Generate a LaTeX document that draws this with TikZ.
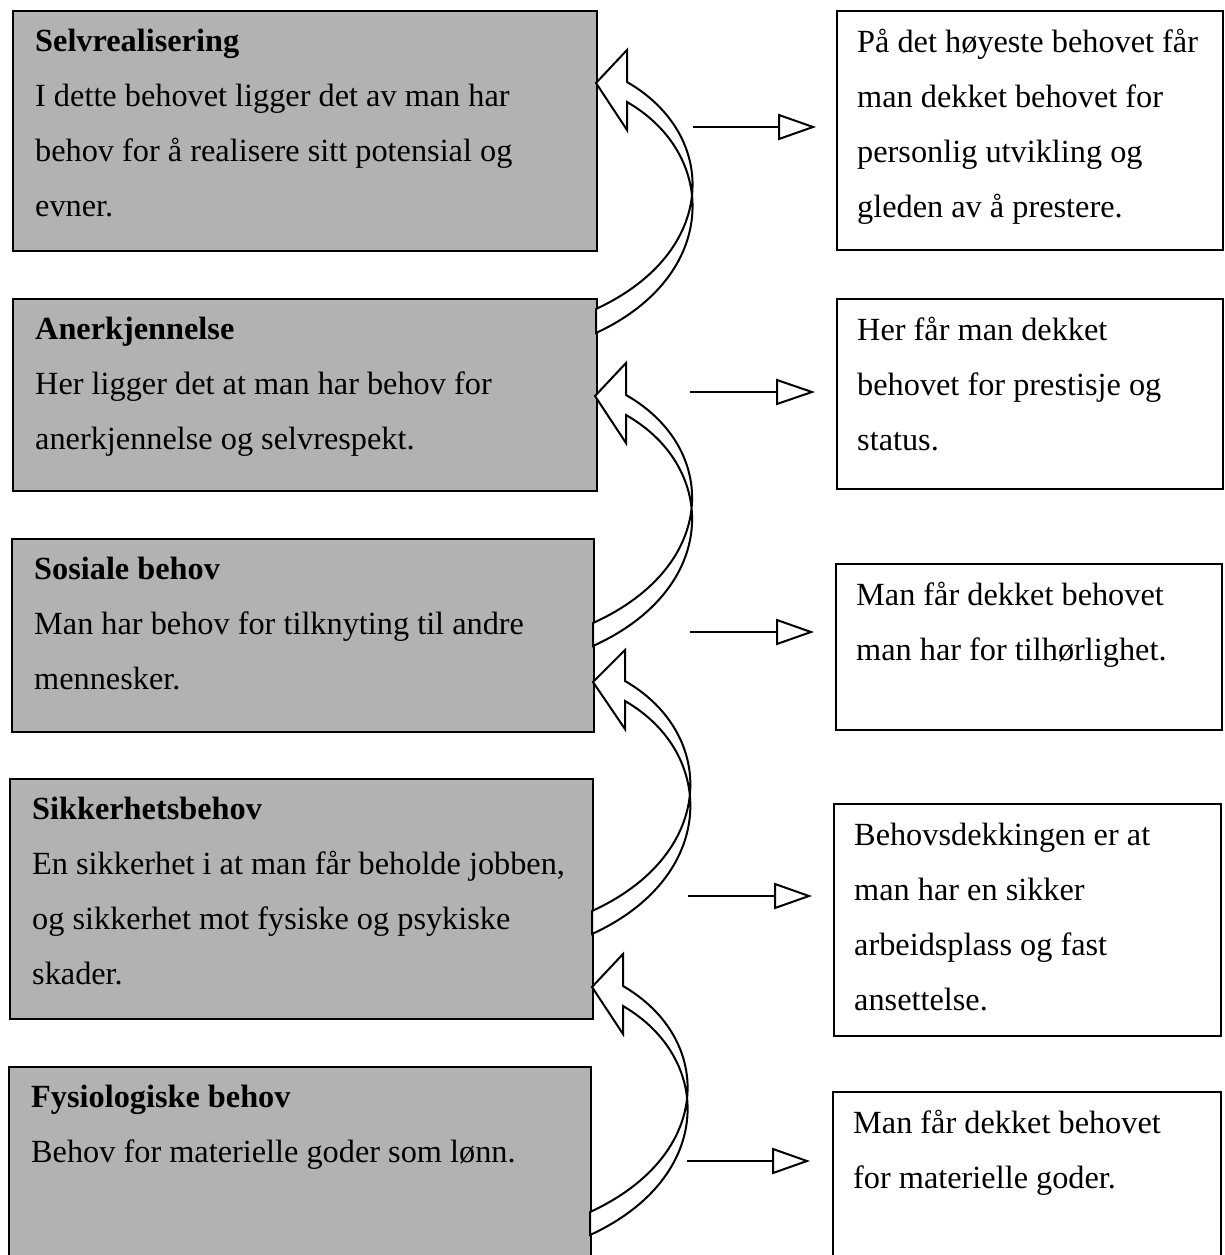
\documentclass[tikz,border=0pt]{standalone}
\usepackage{fontspec}
\setmainfont{Liberation Serif}
\begin{document}
\begin{tikzpicture}[x=1pt,y=-1pt]
  \tikzstyle{every node}+=[inner sep=0pt]
  \tikzstyle{need}=[draw=black, line width=1.8pt, fill=black!30, anchor=north west]
  \tikzstyle{gain}=[draw=black, line width=1.8pt, fill=white, anchor=north west]
  \tikzstyle{words}=[anchor=north west, align=left, font=\fontsize{32.3}{55}\selectfont]
  \tikzstyle{curl}=[draw=black, line width=2pt, fill=white, line join=miter]
  \useasboundingbox (0,0) rectangle (1224,1255);
  \node [need, minimum width=584pt, minimum height=240pt] (n1) at (12,10) {};
  \node [need, minimum width=584pt, minimum height=192pt] (n2) at (12,298) {};
  \node [need, minimum width=582pt, minimum height=193pt] (n3) at (11,538) {};
  \node [need, minimum width=583pt, minimum height=240pt] (n4) at (9,778) {};
  \node [need, minimum width=582pt, minimum height=200pt] (n5) at (8,1066) {};
  \node [gain, minimum width=386pt, minimum height=239pt] (g1) at (836,10) {};
  \node [gain, minimum width=386pt, minimum height=190pt] (g2) at (836,298) {};
  \node [gain, minimum width=386pt, minimum height=166pt] (g3) at (835,563) {};
  \node [gain, minimum width=387pt, minimum height=232pt] (g4) at (833,803) {};
  \node [gain, minimum width=388pt, minimum height=175pt] (g5) at (832,1091) {};
  \node [words] (nt1) at ([shift={(23,2.5)}]n1.north west) {\strut\textbf{Selvrealisering}\\I dette behovet ligger det av man har\\behov for å realisere sitt potensial og\\evner.};
  \node [words] (nt2) at ([shift={(23,2.5)}]n2.north west) {\strut\textbf{Anerkjennelse}\\Her ligger det at man har behov for\\anerkjennelse og selvrespekt.};
  \node [words] (nt3) at ([shift={(23,2.5)}]n3.north west) {\strut\textbf{Sosiale behov}\\Man har behov for tilknyting til andre\\mennesker.};
  \node [words] (nt4) at ([shift={(23,2.5)}]n4.north west) {\strut\textbf{Sikkerhetsbehov}\\En sikkerhet i at man får beholde jobben,\\og sikkerhet mot fysiske og psykiske\\skader.};
  \node [words] (nt5) at ([shift={(23,2.5)}]n5.north west) {\strut\textbf{Fysiologiske behov}\\Behov for materielle goder som lønn.};
  \node [words] (gt1) at ([shift={(21,3.5)}]g1.north west) {\strut På det høyeste behovet får\\man dekket behovet for\\personlig utvikling og\\gleden av å prestere.};
  \node [words] (gt2) at ([shift={(21,3.5)}]g2.north west) {\strut Her får man dekket\\behovet for prestisje og\\status.};
  \node [words] (gt3) at ([shift={(21,3.5)}]g3.north west) {\strut Man får dekket behovet\\man har for tilhørlighet.};
  \node [words] (gt4) at ([shift={(21,3.5)}]g4.north west) {\strut Behovsdekkingen er at\\man har en sikker\\arbeidsplass og fast\\ansettelse.};
  \node [words] (gt5) at ([shift={(21,3.5)}]g5.north west) {\strut Man får dekket behovet\\for materielle goder.};
  \coordinate (u1) at (596,309);
  \coordinate (v1) at (596,83);
  \draw [curl] (u1) .. controls (719,252) and (719,135) .. (627,82) -- (627,50) -- (v1) -- (627,130) -- (627,102) .. controls (719,155) and (719,276) .. (596,333) -- cycle;
  \coordinate (u2) at (593,623);
  \coordinate (v2) at (595,396);
  \draw [curl] (u2) .. controls (719,566) and (719,448) .. (626,395) -- (626,363) -- (v2) -- (626,443) -- (626,415) .. controls (719,468) and (719,589) .. (593,646) -- cycle;
  \coordinate (u3) at (592,911);
  \coordinate (v3) at (593,682);
  \draw [curl] (u3) .. controls (717,854) and (717,734) .. (625,681) -- (625,650) -- (v3) -- (625,729) -- (625,701) .. controls (717,754) and (717,877) .. (592,934) -- cycle;
  \coordinate (u4) at (590,1212);
  \coordinate (v4) at (592,987);
  \draw [curl] (u4) .. controls (714,1155) and (714,1039) .. (623,986) -- (623,954) -- (v4) -- (623,1034) -- (623,1006) .. controls (714,1059) and (714,1178) .. (590,1235) -- cycle;
  \coordinate (s1) at (693,127);
  \coordinate (h1) at (779,127);
  \draw [line width=1.5pt] (s1) -- (h1);
  \draw [curl] (h1) -- ++(0,-12) -- ++(34,12) -- ++(-34,12) -- cycle;
  \coordinate (s2) at (690,392);
  \coordinate (h2) at (777,392);
  \draw [line width=1.5pt] (s2) -- (h2);
  \draw [curl] (h2) -- ++(0,-12) -- ++(35,12) -- ++(-35,12) -- cycle;
  \coordinate (s3) at (690,632);
  \coordinate (h3) at (777,632);
  \draw [line width=1.5pt] (s3) -- (h3);
  \draw [curl] (h3) -- ++(0,-12) -- ++(34,12) -- ++(-34,12) -- cycle;
  \coordinate (s4) at (688,896);
  \coordinate (h4) at (775,896);
  \draw [line width=1.5pt] (s4) -- (h4);
  \draw [curl] (h4) -- ++(0,-12) -- ++(34,12) -- ++(-34,12) -- cycle;
  \coordinate (s5) at (687,1161);
  \coordinate (h5) at (773,1161);
  \draw [line width=1.5pt] (s5) -- (h5);
  \draw [curl] (h5) -- ++(0,-12) -- ++(34,12) -- ++(-34,12) -- cycle;
\end{tikzpicture}
\end{document}
